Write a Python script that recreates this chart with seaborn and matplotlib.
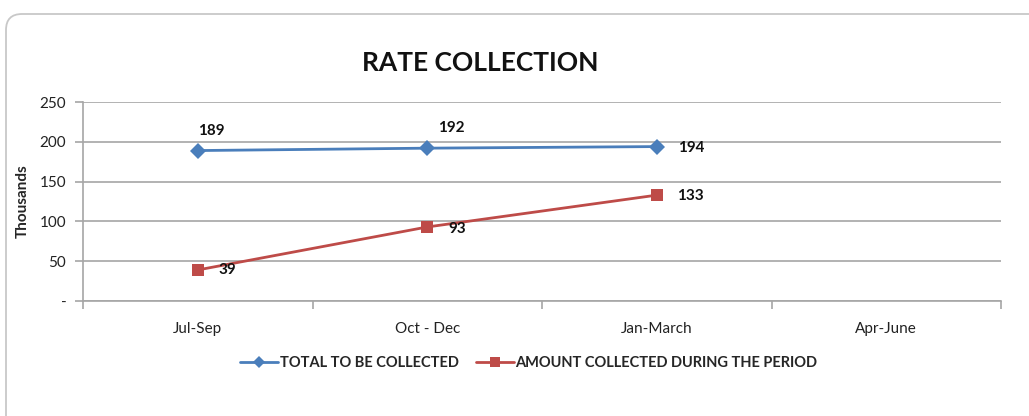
import matplotlib
matplotlib.use("Agg")
import matplotlib.pyplot as plt
from matplotlib.patches import FancyBboxPatch
from matplotlib.lines import Line2D
from matplotlib.transforms import IdentityTransform
import seaborn as sns
import pandas as pd

quarters = ["Jul-Sep", "Oct - Dec", "Jan-March", "Apr-June"]
total_to_collect = [189, 192, 194]
amount_collected = [39, 93, 133]
series_names = ["TOTAL TO BE COLLECTED", "AMOUNT COLLECTED DURING THE PERIOD"]
y_ticks = [0, 50, 100, 150, 200, 250]
y_tick_labels = ["-", "50", "100", "150", "200", "250"]

sns.set_theme(style="white")
plt.rcParams["font.family"] = ["Lato", "DejaVu Sans"]

blue = "#4A7EBB"
red = "#BE4B48"
grid_c = "#A6A6A6"

df = pd.DataFrame({
    "pos": list(range(len(total_to_collect))) + list(range(len(amount_collected))),
    "value": total_to_collect + amount_collected,
    "series": [series_names[0]] * len(total_to_collect) + [series_names[1]] * len(amount_collected),
})

W, H = 1029, 416
fig = plt.figure(figsize=(W / 100, H / 100), dpi=100)

# rounded chart frame (pixel coordinates, running off the right and bottom edges)
frame = FancyBboxPatch((6, -60), 1100, H - 14 + 60, boxstyle="round,pad=0,rounding_size=16",
                       transform=IdentityTransform(), facecolor="none", edgecolor="#C8C8C8",
                       linewidth=1.3, zorder=0)
fig.patches.append(frame)

ax = fig.add_axes([83 / W, 1 - 301 / H, (1001 - 83) / W, (301 - 102) / H])
ax.set_facecolor("none")

sns.lineplot(data=df, x="pos", y="value", hue="series", style="series",
             markers={series_names[0]: "D", series_names[1]: "s"}, dashes=False,
             palette={series_names[0]: blue, series_names[1]: red},
             markersize=8, linewidth=2, markeredgewidth=0, ax=ax, legend=False, zorder=3)

ax.set_xlim(-0.5, len(quarters) - 0.5)
ax.set_ylim(0, 250)

# gridlines
ax.set_yticks(y_ticks)
ax.set_yticklabels(y_tick_labels)
ax.yaxis.grid(True, color=grid_c, linewidth=1.2)
ax.set_axisbelow(True)

# category ticks at boundaries, labels centred
ax.set_xticks([i - 0.5 for i in range(len(quarters) + 1)])
ax.set_xticklabels([])
ax.set_xticks(range(len(quarters)), minor=True)
ax.set_xticklabels(quarters, minor=True)
ax.tick_params(axis="x", which="major", bottom=True, direction="out", length=6, color=grid_c, width=1.2)
ax.tick_params(axis="x", which="minor", bottom=False, length=0, pad=15, labelsize=11,
               labelcolor="#222222")
ax.tick_params(axis="y", left=True, direction="out", length=6, color=grid_c, width=1.2, pad=6,
               labelsize=11, labelcolor="#222222")

for s in ["top", "right"]:
    ax.spines[s].set_visible(False)
for s in ["left", "bottom"]:
    ax.spines[s].set_color(grid_c)
    ax.spines[s].set_linewidth(1.2)

ax.set_xlabel("")
ax.set_ylabel("Thousands", fontsize=11, fontweight="bold", labelpad=7)

# value labels
total_offsets = [(14, 20), (24, 20), (34, -1)]
amount_offsets = [(30, 0), (30, -2), (34, -1)]
for i, v in enumerate(total_to_collect):
    ax.annotate(str(v), (i, v), xytext=total_offsets[i], textcoords="offset pixels",
                ha="center", va="center", fontsize=11, fontweight="bold", color="#111111")
for i, v in enumerate(amount_collected):
    ax.annotate(str(v), (i, v), xytext=amount_offsets[i], textcoords="offset pixels",
                ha="center", va="center", fontsize=11, fontweight="bold", color="#111111")

fig.text(480 / W, 1 - 63 / H, "RATE COLLECTION", ha="center", va="center",
         fontsize=19, fontweight="bold", color="#111111")

handles = [
    Line2D([], [], color=blue, marker="D", markersize=6, linewidth=2, markeredgewidth=0),
    Line2D([], [], color=red, marker="s", markersize=7, linewidth=2, markeredgewidth=0),
]
leg = fig.legend(handles, series_names, loc="center", bbox_to_anchor=(529 / W, 1 - 363 / H),
                 ncol=2, frameon=False, handlelength=2.6, handletextpad=0.1, columnspacing=1.2,
                 prop={"weight": "bold", "size": 10.5})

fig.savefig("out.png", dpi=100, facecolor="white")
